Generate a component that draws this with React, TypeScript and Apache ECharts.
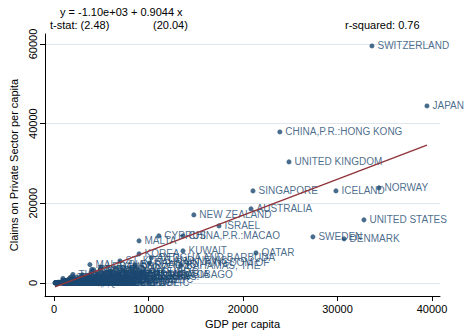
import React, { useEffect, useRef } from "react";
import * as echarts from "echarts";

// ---- Data (read / estimated from the reference) ----
const countries: string[] = [
  "SWITZERLAND", "JAPAN", "CHINA,P.R.:HONG KONG", "UNITED KINGDOM", "SINGAPORE", "ICELAND",
  "NORWAY", "AUSTRALIA", "NEW ZEALAND", "UNITED STATES", "ISRAEL", "CYPRUS",
  "CHINA,P.R.:MACAO", "SWEDEN", "DENMARK", "MALTA", "KUWAIT", "QATAR", "KOREA",
  "ANTIGUA AND BARBUDA", "BAHRAIN, KINGDOM OF", "ST. KITTS AND NEVIS", "BAHAMAS, THE",
  "BARBADOS", "SLOVENIA", "TRINIDAD AND TOBAGO", "CZECH REPUBLIC", "SLOVAK REPUBLIC",
  "MALAYSIA", "LEBANON", "PANAMA", "ST. LUCIA", "CHILE", "GRENADA", "URUGUAY", "OMAN",
  "SAUDI ARABIA", "ARGENTINA", "SEYCHELLES", "MEXICO", "HUNGARY", "CROATIA", "POLAND",
  "ESTONIA", "MAURITIUS", "VENEZUELA", "COSTA RICA", "BRAZIL", "SOUTH AFRICA", "BOTSWANA",
  "LITHUANIA", "LATVIA", "TURKEY", "DOMINICA", "ST. VINCENT & GRENS.", "BELIZE",
  "JAMAICA", "DOMINICAN REPUBLIC", "FIJI", "NAMIBIA", "THAILAND", "TUNISIA", "COLOMBIA",
  "PERU", "EL SALVADOR", "ROMANIA", "BULGARIA", "TONGA", "CAPE VERDE", "VANUATU", "SAMOA",
  "SWAZILAND", "ALBANIA", "JORDAN", "PARAGUAY", "ECUADOR", "GUATEMALA", "SYRIAN ARAB REPUBLIC",
  "MOROCCO", "CHINA,P.R.: MAINLAND", "PHILIPPINES", "EGYPT", "UKRAINE", "SOLOMON ISLANDS",
  "CONGO, REPUBLIC OF", "ANGOLA", "PAPUA NEW GUINEA", "SRI LANKA", "INDONESIA", "BOLIVIA",
  "HONDURAS", "NICARAGUA", "ZIMBABWE", "LESOTHO", "KYRGYZ REPUBLIC", "AZERBAIJAN", "GEORGIA",
  "MOLDOVA", "ARMENIA", "COTE D'IVOIRE", "CAMEROON", "SENEGAL", "YEMEN, REPUBLIC OF",
  "CAMBODIA", "VIETNAM", "PAKISTAN", "INDIA", "MONGOLIA", "LAO P.D.R.", "ZAMBIA", "SUDAN",
  "BENIN", "TOGO", "GAMBIA, THE", "NIGERIA", "KENYA", "HAITI", "BANGLADESH", "GHANA",
  "BURKINA FASO", "MALI", "CHAD", "TANZANIA", "MADAGASCAR", "MOZAMBIQUE", "UGANDA", "NEPAL",
  "RWANDA", "SIERRA LEONE", "NIGER", "MALAWI", "BURUNDI", "ETHIOPIA", "KAZAKHSTAN",
  "RUSSIA", "IRAN, I.R. OF",
];

const gdpPerCapita: number[] = [
  33650, 39470, 23900, 24870, 21060, 29840,
  34390, 20850, 14800, 32800, 17460, 11100,
  13650, 27400, 30700, 9000, 13650, 21380, 9000,
  10300, 10100, 6980, 13400,
  8600, 8500, 6100, 5500, 3800,
  3800, 5000, 4000, 4200, 4900, 4000, 6000, 7500,
  8500, 7700, 7000, 5800, 4700, 4500, 4400,
  3800, 3800, 4900, 4100, 3500, 3000, 3500,
  3300, 3300, 2900, 3500, 3000, 3000,
  3000, 2500, 2100, 2000, 2000, 2000, 2000,
  2100, 2100, 1650, 1600, 1700, 1300, 1350, 1400,
  1500, 1200, 1700, 1400, 1300, 1700, 1100,
  1200, 950, 1000, 1500, 640, 900,
  1000, 650, 670, 870, 760, 1000,
  920, 780, 580, 430, 280, 660, 690,
  350, 620, 620, 580, 470, 530,
  290, 390, 500, 460, 420, 330, 310, 390,
  360, 270, 320, 380, 350, 420, 360, 260,
  220, 230, 200, 270, 240, 230, 250, 230,
  220, 150, 170, 160, 110, 120, 1200,
  1800, 1500,
];

const claimsPerCapita: number[] = [
  59500, 44440, 37900, 30380, 23100, 23100,
  23850, 18580, 17070, 15820, 14310, 11800,
  11800, 11550, 11050, 10550, 8030, 7530, 7280,
  6300, 5000, 5500, 4300,
  4500, 3800, 2000, 2500, 1700,
  4600, 4000, 3400, 3300, 3300, 2800, 3000, 2700,
  2200, 1800, 1800, 900, 1500, 1900, 1200,
  1000, 2000, 500, 900, 1200, 2000, 600,
  400, 600, 500, 1700, 1600, 1300,
  600, 800, 650, 900, 2100, 1300, 500,
  600, 900, 150, 200, 400, 500, 500, 400,
  250, 60, 1300, 350, 400, 300, 100,
  600, 1100, 400, 800, 60, 150,
  60, 30, 90, 250, 150, 600,
  350, 250, 120, 60, 15, 30, 50,
  40, 30, 100, 60, 90, 30,
  20, 130, 140, 120, 40, 30, 25, 10,
  40, 40, 40, 40, 80, 60, 90, 30,
  30, 30, 5, 15, 20, 20, 15, 60,
  20, 5, 7, 8, 12, 10, 150,
  200, 250,
];

// Regression reported in the header
const interceptCoef = -1100;
const slopeCoef = 0.9044;
const headerEquation = "y = -1.10e+03 + 0.9044 x";
const headerTstatLabel = "t-stat: (2.48)";
const headerTstatSlope = "(20.04)";
const headerR2 = "r-squared: 0.76";

const xTicks: number[] = [0, 10000, 20000, 30000, 40000];
const yTicks: number[] = [0, 20000, 40000, 60000];

const NAVY = "#1a476f";
const RED = "#90353b";
const FONT = "'Liberation Sans', Arial, sans-serif";

export default function App() {
  const ref = useRef<HTMLDivElement>(null);

  useEffect(() => {
    if (!ref.current) return;
    const chart = echarts.init(ref.current, undefined, { renderer: "svg" });

    const points = countries.map((name, i) => ({
      name,
      value: [gdpPerCapita[i], claimsPerCapita[i]],
    }));
    const xMin = Math.min(...gdpPerCapita);
    const xMax = Math.max(...gdpPerCapita);
    const fitLine = [
      [xMin, interceptCoef + slopeCoef * xMin],
      [xMax, interceptCoef + slopeCoef * xMax],
    ];
    const plain = (v: number) => String(v);

    chart.setOption({
      animation: false,
      backgroundColor: "#ffffff",
      textStyle: { fontFamily: FONT },
      grid: { left: 45, top: 34, width: 395, height: 262, outerBoundsMode: "none", containLabel: false },
      xAxis: {
        type: "value",
        min: -950,
        max: 40850,
        name: "GDP per capita",
        nameLocation: "middle",
        nameGap: 21,
        nameTextStyle: { fontSize: 11, color: "#000", fontFamily: FONT },
        axisLine: { show: true, onZero: false, lineStyle: { color: "#000", width: 1 } },
        axisTick: { show: true, inside: false, length: 5, customValues: xTicks, lineStyle: { color: "#000" } },
        axisLabel: { customValues: xTicks, formatter: plain, fontSize: 11, color: "#000", margin: 7, fontFamily: FONT },
        splitLine: { show: false },
      },
      yAxis: {
        type: "value",
        min: -3300,
        max: 62500,
        name: "Claims on Private Sector per capita",
        nameLocation: "middle",
        nameGap: 22,
        nameRotate: 90,
        nameTextStyle: { fontSize: 11, color: "#000", fontFamily: FONT },
        axisLine: { show: true, onZero: false, lineStyle: { color: "#000", width: 1 } },
        axisTick: { show: true, inside: false, length: 5, customValues: yTicks, lineStyle: { color: "#000" } },
        axisLabel: { customValues: yTicks, formatter: plain, fontSize: 11, color: "#000", rotate: 90, margin: 7, fontFamily: FONT },
        splitLine: { show: true, lineStyle: { color: "#dfe6ef", width: 1 } },
      },
      graphic: [
        { type: "text", left: 60, top: 6, style: { text: headerEquation, fontSize: 11, fill: "#000", fontFamily: FONT } },
        { type: "text", left: 50, top: 19, style: { text: headerTstatLabel, fontSize: 11, fill: "#000", fontFamily: FONT } },
        { type: "text", left: 153, top: 19, style: { text: headerTstatSlope, fontSize: 11, fill: "#000", fontFamily: FONT } },
        { type: "text", left: 345, top: 19, style: { text: headerR2, fontSize: 11, fill: "#000", fontFamily: FONT } },
      ],
      series: [
        {
          type: "scatter",
          data: points,
          symbolSize: 5,
          itemStyle: { color: NAVY },
          label: {
            show: true,
            position: "right",
            distance: 3,
            formatter: (p: any) => p.name,
            fontSize: 10,
            color: NAVY,
            fontFamily: FONT,
          },
          z: 2,
        },
        {
          type: "line",
          data: fitLine,
          showSymbol: false,
          symbol: "none",
          lineStyle: { color: RED, width: 1.5 },
          z: 3,
        },
      ],
    });

    return () => chart.dispose();
  }, []);

  return (
    <div
      ref={ref}
      style={{ position: "fixed", left: 0, top: 0, width: 464, height: 330 }}
    />
  );
}
